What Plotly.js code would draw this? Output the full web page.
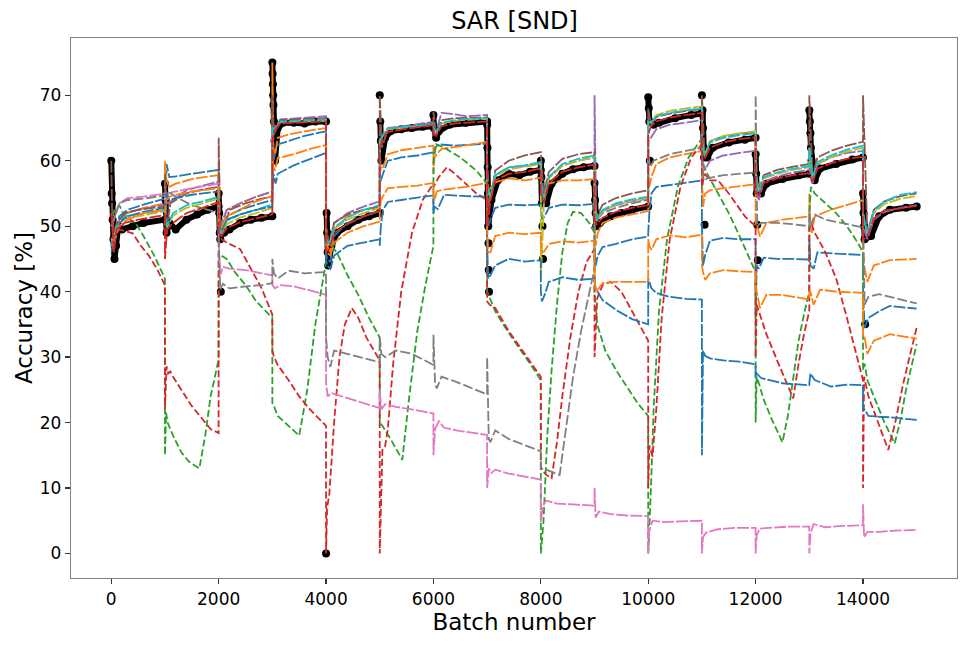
<!DOCTYPE html>
<html>
<head>
<meta charset="utf-8">
<script src="https://cdn.plot.ly/plotly-3.0.1.min.js"></script>
<style>
  html, body { margin: 0; padding: 0; background: #fff; }
  #chart { width: 969px; height: 646px; }
</style>
</head>
<body>
<div id="chart"></div>
<script>
// values, [batch, accuracy %]
const black = [
  [0,60],[8,55],[15,53.5],[25,51],[40,48],[60,45],[90,47],[130,50],[200,49.5],[400,50],[600,50.5],[999,51],
  [1000,56.5],[1010,54],[1020,51],[1030,49],[1080,50.5],[1200,49.5],[1400,51],[1600,51.8],[1800,52.5],[1999,53],
  [2000,55],[2010,52],[2020,49],[2100,49],[2200,49.5],[2400,50.5],[2600,51],[2800,51.3],[2999,51.5],
  [3000,75],[3005,73.3],[3010,71.7],[3015,70],[3020,68.5],[3030,66],[3040,63],[3050,60],[3100,65],[3200,65.8],[3400,65.8],[3600,65.7],[3800,66],[3999,66],
  [4010,52],[4020,49],[4030,46],[4040,44],[4100,47],[4200,49],[4400,50],[4600,51],[4800,51.5],[4999,52],
  [5010,66],[5020,63],[5030,60],[5100,63.5],[5200,64.5],[5400,64.8],[5600,65],[5800,65.2],[5999,65.3],
  [6000,67],[6010,65],[6050,63.5],[6100,64.5],[6300,65.5],[6600,65.8],[6999,66],
  [7000,65.5],[7005,62],[7010,59],[7015,55],[7020,50],[7080,54],[7200,57],[7400,58],[7600,57.8],[7800,58.3],[7999,58.6],
  [8000,60],[8010,57.5],[8020,53.5],[8100,53.5],[8200,56.5],[8400,58],[8600,58.7],[8800,59],[8999,59.2],
  [9000,56.6],[9010,54],[9020,52],[9030,50],[9100,50.5],[9300,51.5],[9500,52],[9700,52.5],[9999,53],
  [10000,69.7],[10010,68],[10020,66],[10100,65.5],[10200,65.8],[10500,66.5],[10800,67],[10999,67.2],
  [11010,67.7],[11020,65],[11030,62],[11040,60.5],[11100,60.5],[11200,62],[11500,62.8],[11800,63.2],[11999,63.5],
  [12000,61],[12010,58],[12020,55],[12100,55],[12200,56.5],[12500,57.2],[12800,57.8],[12999,58],
  [13000,67.7],[13010,66],[13020,64.2],[13030,62],[13100,57],[13200,58.8],[13500,59.5],[13800,60.2],[13999,60.5],
  [14000,55],[14010,52],[14020,50],[14030,48],[14150,48.5],[14300,51.5],[14500,52.5],[14800,52.8],[14999,53]
];
const blackDots = [
  [2030,48],[2040,40],[4000,0],[5000,70],[7025,47.4],[7030,43.3],[7035,40],[8030,50],[8040,45],
  [10030,60],[11000,70],[11050,50.2],[12030,50.2],[12040,44.8],[13040,60],[14040,35]
];

const blue1 = [
  [0,47],[50,49],[150,51.5],[300,52.5],[600,53.3],[999,54.2],
  [1000,53],[1030,59.5],[1080,57.5],[1200,57.6],[1500,58],[1999,58.6],
  [2000,52],[2050,50],[2150,51.5],[2400,52.5],[2700,53.3],[2999,54],
  [3000,57],[3020,60],[3050,61],[3100,62.5],[3300,63],[3600,63.8],[3999,64.5],
  [4000,46],[4020,45],[4080,44.5],[4150,48.5],[4400,50.5],[4700,51.5],[4999,52.3],
  [5000,56],[5020,57],[5060,58],[5150,60],[5400,60.5],[5700,60.8],[5999,61.3],
  [6000,61],[6030,62],[6100,62.5],[6400,62.3],[6999,62.6],
  [7000,52],[7020,50],[7060,51],[7150,52.8],[7400,53.3],[7700,53.2],[7999,53.3],
  [8000,55],[8020,51],[8070,51.5],[8150,52.8],[8400,53.3],[8700,53.2],[8999,53.4],
  [9000,47],[9020,44],[9060,45.5],[9150,46.8],[9400,47.3],[9700,48],[9999,48.4],
  [10000,49],[10020,52],[10060,55],[10150,56],[10400,56.3],[10700,56.6],[10999,57],
  [11000,50],[11020,44],[11060,45.6],[11150,47.8],[11400,48.2],[11700,48],[11999,48],
  [12000,36],[12020,44],[12060,43.5],[12150,45.2],[12400,45],[12700,45],[12999,44.9],
  [13000,48],[13020,44],[13080,43.5],[13150,46],[13500,45.8],[13999,45.6],
  [14000,40],[14030,34.5],[14100,36],[14300,37],[14500,37.8],[14999,37.4]
];
const orange1 = [
  [0,48],[50,48.5],[150,51],[300,52],[600,52.8],[999,53.5],
  [1000,60],[1030,57],[1080,56],[1200,56.5],[1500,57.2],[1999,57.8],
  [2000,50],[2050,50.5],[2150,52.5],[2400,53.5],[2700,54.5],[2999,55.3],
  [3000,75],[3020,62],[3050,61],[3100,63.5],[3300,64],[3600,64.5],[3999,65],
  [4000,50],[4020,47],[4080,46],[4150,49.5],[4400,51.5],[4700,52.5],[4999,53],
  [5000,62],[5020,58.5],[5060,59],[5150,61],[5400,61.6],[5700,62],[5999,62.3],
  [6000,58],[6020,60.5],[6060,61],[6150,61.8],[6500,62.2],[6999,62.9],
  [7000,52],[7030,55.5],[7150,56.7],[7400,57.3],[7700,57],[7999,57.4],
  [8000,56],[8020,55],[8070,55.5],[8150,56.5],[8400,57],[8700,57],[8999,57.2],
  [9000,50],[9020,47],[9060,49],[9150,50.5],[9400,51.3],[9700,51.8],[9999,52.3],
  [10000,58],[10020,56],[10060,57.5],[10150,59.5],[10400,60.5],[10700,61],[10999,61.5],
  [11000,58],[11020,53],[11060,55],[11150,55.5],[11400,55.8],[11700,56.1],[11999,56.4],
  [12000,50],[12030,50],[12080,48.4],[12200,50.5],[12500,51],[12800,51.3],[12999,51.5],
  [13000,55],[13020,50],[13050,49],[13100,51.5],[13400,52.5],[13700,53.2],[13999,54],
  [14000,46],[14020,44],[14080,41.5],[14200,44],[14500,44.8],[14999,45]
];
const green = [
  [0,50],[60,52.5],[150,53.2],[250,51.5],[450,50.5],[600,48.5],[800,45.5],[999,42],
  [1000,15],[1020,21.5],[1050,20],[1150,18],[1300,15.5],[1450,14],[1640,13],[1750,18],[1850,24],[1999,29.6],
  [2000,46],[2050,45.5],[2150,45],[2300,43],[2500,41],[2700,38.5],[2999,36],
  [3000,23],[3030,22.5],[3100,21],[3300,19.5],[3500,18],[3650,25],[3800,35],[3999,44.5],
  [4000,47],[4050,47.5],[4200,46],[4400,42.5],[4600,39.5],[4800,36],[4999,33],
  [5000,20],[5050,19.5],[5200,17.5],[5420,14.3],[5550,24],[5700,34],[5850,41],[5999,47],
  [6000,60],[6050,62.5],[6200,62],[6500,60.5],[6800,58.5],[6999,56.5],
  [7000,40],[7050,39],[7150,37],[7300,35],[7500,32.5],[7800,29],[7999,26.5],
  [8000,0],[8050,5],[8120,18],[8200,28],[8300,38],[8400,46],[8500,50.5],[8600,52.2],[8750,52],[8900,50.5],[8999,49],
  [9000,40],[9050,35],[9200,31],[9400,28],[9600,25.5],[9800,23],[9999,21],
  [10000,0],[10050,9.8],[10100,22],[10200,37],[10350,48],[10550,56],[10750,60.5],[10999,63.4],
  [11000,60],[11100,58],[11300,55],[11500,52],[11700,48.5],[11999,43],
  [12000,20],[12020,27],[12060,26],[12150,23.5],[12300,20.5],[12500,17],[12600,21],[12700,27],[12800,32.5],[12900,36.5],[12999,40],
  [13000,52],[13030,56],[13100,55],[13300,53.5],[13500,52],[13700,50],[13900,47.5],[13999,46],
  [14000,28],[14030,29],[14080,26.5],[14200,24],[14400,20],[14590,16.8],[14700,20.5],[14800,25],[14900,28.5],[14999,32]
];
const red = [
  [0,52],[50,49.5],[200,49.4],[400,48.9],[550,47],[700,45.5],[850,43.5],[999,41],
  [1000,22],[1030,28.6],[1060,27.5],[1100,27.8],[1150,27],[1300,25],[1500,22.5],[1700,20.5],[1850,19],[1999,18.4],
  [2000,48],[2050,48],[2150,47.5],[2400,46.5],[2600,43.5],[2800,40.5],[2999,36.5],
  [3000,31],[3030,30],[3100,28.8],[3300,26.5],[3500,24],[3700,22],[3999,19.5],
  [4000,0],[4020,7],[4060,9],[4150,20],[4250,30],[4350,35],[4480,37.5],[4600,36],[4750,33],[4999,29.5],
  [5000,0],[5050,16],[5100,16.4],[5150,19],[5250,29],[5400,40],[5600,49],[5800,54],[5999,56.5],
  [6000,56],[6100,57.5],[6250,59],[6400,58],[6600,56.5],[6800,55],[6999,54],
  [7000,38.5],[7050,38],[7150,37.5],[7400,34],[7700,30.5],[7999,27],
  [8000,13],[8100,12],[8200,11.5],[8300,17],[8400,24],[8550,33],[8700,40],[8850,44.5],[8999,46.5],
  [9000,30],[9050,39],[9150,41],[9300,41.5],[9500,40],[9700,37],[9999,32.5],
  [10000,10],[10020,16.5],[10080,14.8],[10150,22],[10250,36],[10400,48],[10600,56],[10800,60.5],[10999,62.5],
  [11000,56],[11050,58],[11150,57],[11300,57],[11500,55],[11800,51.5],[11999,50],
  [12000,30],[12020,38],[12080,36.5],[12200,33.5],[12400,29.5],[12550,26.5],[12700,23.7],[12800,29],[12900,33.5],[12999,37],
  [13000,50],[13030,50.5],[13100,49],[13300,46],[13500,42],[13700,36],[13850,31],[13999,26.5],
  [14000,10],[14020,27],[14100,24],[14300,19.5],[14470,15.8],[14600,20],[14750,26],[14880,30.5],[14999,34.5]
];
const purple = [
  [0,48],[40,47.5],[100,50],[250,52],[500,52.5],[999,53.3],
  [1000,54],[1040,53.5],[1150,54],[1400,55.5],[1700,56.2],[1999,56.8],
  [2000,52],[2050,50],[2150,52.5],[2400,53.5],[2700,54.5],[2999,55.3],
  [3000,66],[3040,65],[3150,66.3],[3500,66.5],[3999,66.8],
  [4000,48],[4060,47.5],[4150,50.5],[4400,52],[4700,53],[4999,53.8],
  [5000,63],[5050,63.8],[5150,65],[5500,65.4],[5999,65.9],
  [6000,64],[6050,64.5],[6150,67.3],[6300,67.2],[6600,66.8],[6999,67],
  [7000,55],[7060,54.5],[7150,57.8],[7400,59],[7700,59.2],[7999,59.5],
  [8000,57],[8060,54],[8150,57.5],[8400,59.3],[8700,60],[8999,60.5],
  [9000,70],[9030,51],[9150,52.3],[9400,53.2],[9700,53.8],[9999,54.2],
  [10000,63],[10050,63.5],[10150,64.8],[10400,65.5],[10700,65.8],[10999,66.2],
  [11000,60],[11050,58.5],[11150,60],[11400,60.8],[11700,61.2],[11999,61.5],
  [12000,56],[12060,54],[12150,56.8],[12400,57.6],[12700,58.2],[12999,58.6],
  [13000,59],[13060,56.5],[13150,59.5],[13400,60.5],[13700,61.2],[13999,61.5],
  [14000,50],[14080,48],[14200,51],[14400,52.2],[14700,52.8],[14999,53.2]
];
const brown = [
  [0,60],[20,50],[50,47],[100,50.5],[250,52],[500,52.5],[999,53],
  [1000,58],[1040,50],[1100,53.5],[1400,55],[1700,55.6],[1999,56],
  [2000,63.5],[2030,50],[2080,49],[2200,52.5],[2500,53.5],[2800,54.2],[2999,54.5],
  [3000,70],[3030,64],[3150,66.2],[3500,66.3],[3999,66.5],
  [4000,50],[4060,47],[4150,50.5],[4400,51.8],[4700,52.5],[4999,53],
  [5000,70],[5040,62],[5150,64.8],[5500,65.2],[5999,65.5],
  [6000,67.5],[6050,64],[6150,66.2],[6400,66.5],[6700,66.5],[6999,66.6],
  [7000,60],[7040,53],[7150,58.5],[7400,60],[7700,60.8],[7999,61.3],
  [8000,61],[8050,55],[8150,58.3],[8400,60.3],[8700,61],[8999,61.3],
  [9000,56],[9040,51.5],[9150,53.3],[9400,54.3],[9700,55],[9999,55.5],
  [10000,68],[10050,65.5],[10150,66.7],[10400,67.2],[10700,67.6],[10999,67.9],
  [11000,70],[11050,60.5],[11150,63],[11400,63.7],[11700,64.1],[11999,64.4],
  [12000,58],[12060,55.5],[12150,57.8],[12400,58.6],[12700,59.1],[12999,59.5],
  [13000,70],[13060,57.5],[13150,60.5],[13400,61.5],[13700,62.3],[13999,62.9],
  [14000,70],[14080,49],[14200,52.5],[14400,53.8],[14700,54.6],[14999,55]
];
const pink = [
  [0,50],[50,51],[150,53.5],[300,54.3],[600,54.5],[999,55],
  [1000,54],[1050,55],[1200,55.3],[1500,55.8],[1999,56.5],
  [2000,48],[2030,42.5],[2080,43.8],[2200,43.5],[2500,43.3],[2800,42.8],[2999,42.5],
  [3000,41],[3050,40.5],[3150,41],[3400,40.8],[3700,40.2],[3999,39.5],
  [4000,26],[4030,24],[4100,24.5],[4300,24],[4600,23.2],[4999,22.2],
  [5000,25],[5030,22],[5100,22.8],[5300,22.4],[5600,22],[5999,21.4],
  [6000,15],[6030,19],[6100,20.2],[6200,19.2],[6500,18.7],[6999,18.1],
  [7000,10],[7030,13],[7080,12.3],[7150,12.8],[7400,12.2],[7700,11.8],[7999,11.3],
  [8000,4.8],[8040,7.3],[8100,8.1],[8300,7.6],[8600,7.5],[8999,7.3],
  [9000,10],[9020,5.5],[9080,6.4],[9300,6],[9600,5.8],[9999,5.7],
  [10000,0],[10020,3.5],[10080,5],[10300,4.8],[10600,4.9],[10999,5],
  [11000,0],[11020,2.5],[11080,3.2],[11300,3.7],[11600,3.9],[11999,3.9],
  [12000,0],[12020,2.8],[12080,3.8],[12300,3.9],[12600,4.1],[12999,4.1],
  [13000,0],[13020,3],[13080,4.5],[13300,4],[13600,4.2],[13999,4.3],
  [14000,7.5],[14020,2.5],[14080,3.3],[14300,3.3],[14600,3.5],[14999,3.6]
];
const gray = [
  [0,50],[50,51],[150,53.5],[300,54],[600,54.2],[999,54.7],
  [1000,55],[1050,55.3],[1200,54.5],[1500,53.2],[1800,52.5],[1999,52],
  [2000,48],[2030,40.3],[2080,41.2],[2200,40.5],[2500,40.8],[2800,41],[2999,41.3],
  [3000,45],[3030,42.8],[3100,42],[3300,43.2],[3600,42.8],[3999,43],
  [4000,33],[4030,30],[4080,28.5],[4150,31],[4400,30.5],[4700,29.8],[4999,29.2],
  [5000,33],[5030,30.5],[5100,30],[5300,31],[5600,30.5],[5999,28.8],
  [6000,33.4],[6030,26],[6060,25.2],[6150,27],[6400,26.3],[6700,25.3],[6999,24.3],
  [7000,30],[7030,17.5],[7060,17],[7150,18.8],[7400,17.5],[7700,16.5],[7999,15.6],
  [8000,13],[8100,12.8],[8250,12.3],[8350,12],[8450,18],[8600,27],[8750,34],[8900,40],[8999,43.5],
  [9000,54],[9050,51],[9150,52],[9400,52.8],[9700,53.5],[9999,54],
  [10000,62],[10030,59],[10100,60],[10400,61],[10700,61.5],[10999,62],
  [11000,62],[11030,57],[11100,57.3],[11400,57.8],[11700,58],[11999,58.2],
  [12000,70],[12030,50],[12100,50.5],[12400,50.5],[12700,50.3],[12999,50],
  [13000,52],[13030,50],[13100,51.8],[13300,51],[13600,50.5],[13999,49.8],
  [14000,52],[14030,38],[14100,39.2],[14300,39.6],[14600,39],[14999,38.2]
];
const olive = [
  [0,48],[50,47.3],[100,49.8],[250,51.2],[500,51.5],[999,52.3],
  [1000,51],[1040,49.8],[1150,51.6],[1400,52.8],[1700,53.5],[1999,54.2],
  [2000,50],[2050,48.8],[2150,50.3],[2400,51.3],[2700,52],[2999,52.8],
  [3000,65],[3040,64.7],[3150,65.9],[3500,66],[3999,66.1],
  [4000,47],[4060,47.2],[4150,49.5],[4400,51],[4700,52],[4999,52.8],
  [5000,63],[5050,63.7],[5150,64.8],[5500,65.1],[5999,65.5],
  [6000,65],[6050,64.2],[6150,65.7],[6400,66.1],[6700,66.3],[6999,66.4],
  [7000,56],[7060,54.3],[7150,57.6],[7400,58.7],[7700,59.1],[7999,59.5],
  [8000,42],[8060,54],[8150,57.3],[8400,59.2],[8700,60],[8999,60.5],
  [9000,53],[9040,50.8],[9150,52.3],[9400,53.3],[9700,53.9],[9999,54.3],
  [10000,66],[10050,65.8],[10150,67],[10400,67.6],[10700,68],[10999,68.3],
  [11000,63],[11050,60.8],[11150,63],[11400,63.8],[11700,64.2],[11999,64.5],
  [12000,58],[12060,55.2],[12150,57.3],[12400,58],[12700,58.6],[12999,59],
  [13000,62],[13060,57.2],[13150,59.6],[13400,60.5],[13700,61.4],[13999,62],
  [14000,52],[14080,48.6],[14200,52],[14400,53.4],[14700,54.2],[14999,54.6]
];
const cyan = [
  [0,48],[50,47.5],[100,50],[250,51.5],[500,51.8],[999,52.5],
  [1000,52],[1040,50],[1150,52],[1400,53.2],[1700,53.8],[1999,54.5],
  [2000,50],[2050,49],[2150,50.8],[2400,51.8],[2700,52.5],[2999,53.3],
  [3000,65],[3040,64.8],[3150,66],[3500,66.1],[3999,66.3],
  [4000,48],[4060,47.3],[4150,49.8],[4400,51.3],[4700,52.5],[4999,53.2],
  [5000,63],[5050,63.8],[5150,64.9],[5500,65.2],[5999,65.6],
  [6000,65],[6050,64.3],[6150,65.8],[6400,66.2],[6700,66.4],[6999,66.5],
  [7000,56],[7060,54.5],[7150,57.8],[7400,59],[7700,59.3],[7999,59.8],
  [8000,57],[8060,54],[8150,57.5],[8400,59.5],[8700,60.3],[8999,60.8],
  [9000,53],[9040,51],[9150,52.5],[9400,53.5],[9700,54.1],[9999,54.5],
  [10000,66],[10050,65.8],[10150,66.8],[10400,67.3],[10700,67.7],[10999,68],
  [11000,63],[11050,60.8],[11150,62.8],[11400,63.5],[11700,63.9],[11999,64.2],
  [12000,58],[12060,55.3],[12150,57.5],[12400,58.2],[12700,58.8],[12999,59.2],
  [13000,62],[13060,57.3],[13150,59.8],[13400,60.8],[13700,61.7],[13999,62.3],
  [14000,52],[14080,48.8],[14200,52.3],[14400,53.8],[14700,54.8],[14999,55.2]
];
const blue2 = [
  [0,46],[50,48],[150,50.5],[300,51.5],[600,52.2],[999,52.8],
  [1000,50],[1030,55],[1080,54],[1200,54.3],[1500,54.8],[1999,55.3],
  [2000,51],[2050,49.5],[2150,51],[2400,51.8],[2700,52.5],[2999,53],
  [3000,55],[3020,58],[3060,56.5],[3100,58],[3400,59.3],[3700,60.3],[3999,61.2],
  [4000,45],[4020,44],[4080,43.5],[4150,45.5],[4400,47],[4700,47.5],[4999,48],
  [5000,47],[5020,50],[5060,52.5],[5150,53.7],[5400,54],[5700,54.3],[5999,54.7],
  [6000,52],[6020,53],[6080,52.6],[6200,54.8],[6600,54.6],[6999,54.5],
  [7000,47],[7020,42],[7060,42.5],[7150,44],[7400,45],[7700,44.6],[7999,44.8],
  [8000,40],[8020,38.5],[8070,39.5],[8150,41.5],[8400,42.2],[8700,41.8],[8999,42],
  [9000,42],[9020,40.5],[9060,40],[9150,38.7],[9400,37.2],[9700,35.8],[9999,35],
  [10000,42],[10020,41.5],[10060,40.5],[10150,39.8],[10400,39.2],[10700,38.9],[10999,38.8],
  [11000,15],[11020,31],[11060,30.2],[11150,29.8],[11400,29.5],[11700,29.3],[11999,28.9],
  [12000,27],[12020,27.5],[12100,26.8],[12500,26],[12999,25.7],
  [13000,26],[13020,27.5],[13100,26.5],[13400,25.5],[13700,25.8],[13999,25.7],
  [14000,22],[14030,22],[14100,21],[14500,20.8],[14999,20.4]
];
const orange2 = [
  [0,47],[50,47.5],[150,50],[300,51],[600,52],[999,52.5],
  [1000,52],[1030,54],[1080,54.5],[1200,54.8],[1500,55.3],[1999,55.8],
  [2000,50],[2050,49.8],[2150,51.5],[2400,52.5],[2700,53.8],[2999,54.6],
  [3000,60],[3020,59],[3050,58.5],[3100,60.4],[3400,61],[3700,61.8],[3999,62.4],
  [4000,48],[4020,46],[4080,45.5],[4150,47.5],[4400,49],[4700,50],[4999,50.7],
  [5000,52],[5020,54],[5060,54.5],[5150,55.8],[5400,56],[5700,56.2],[5999,56.6],
  [6000,55],[6020,54],[6060,55.3],[6200,55.6],[6600,56],[6999,56.6],
  [7000,50],[7020,46],[7060,46],[7150,48.5],[7400,49],[7700,48.8],[7999,49],
  [8000,47],[8020,46],[8070,46.2],[8150,47.3],[8400,47.7],[8700,47.5],[8999,47.8],
  [9000,42],[9020,40],[9060,40.3],[9150,41.3],[9400,41.5],[9700,41.5],[9999,41.5],
  [10000,48],[10020,47],[10060,46.4],[10150,48],[10400,48.6],[10700,48.3],[10999,48.7],
  [11000,44],[11020,43],[11060,41.8],[11150,42.8],[11400,43.3],[11700,43.1],[11999,43],
  [12000,40],[12020,40],[12080,37.5],[12200,39.5],[12500,39.5],[12999,38.8],
  [13000,40],[13020,40],[13080,38],[13200,40.3],[13500,40],[13999,39.8],
  [14000,33],[14030,33],[14080,30.5],[14200,32.5],[14500,33.5],[14999,32.8]
];
const red2 = [
  [0,52],[50,46],[100,49.5],[250,50.5],[500,51],[999,51.7],
  [1000,45],[1040,49.5],[1150,50.5],[1400,52],[1700,52.8],[1999,53.7],
  [2000,49],[2050,48.5],[2150,49.7],[2400,50.6],[2700,51.2],[2999,51.8],
  [3000,63],[3040,64.6],[3150,65.7],[3500,65.8],[3999,66],
  [4000,46],[4060,46.5],[4150,49],[4400,50.3],[4700,51.5],[4999,52.3],
  [5000,62],[5050,63.3],[5150,64.4],[5500,64.9],[5999,65.4],
  [6000,64],[6050,63.8],[6150,65.3],[6400,65.7],[6700,65.9],[6999,66],
  [7000,50],[7060,53.8],[7150,57],[7400,58],[7700,58.3],[7999,58.8],
  [8000,55],[8060,53.5],[8150,56.6],[8400,58.3],[8700,59],[8999,59.4],
  [9000,51],[9040,50.3],[9150,51.3],[9400,52.2],[9700,52.8],[9999,53.2],
  [10000,64],[10050,65.3],[10150,66],[10400,66.6],[10700,67],[10999,67.3],
  [11000,60],[11050,60.3],[11150,62],[11400,62.8],[11700,63.3],[11999,63.6],
  [12000,55],[12060,54.8],[12150,56.6],[12400,57.3],[12700,57.8],[12999,58.1],
  [13000,58],[13060,56.8],[13150,58.8],[13400,59.6],[13700,60.3],[13999,60.6],
  [14000,48],[14080,48.3],[14200,51.2],[14400,52.4],[14700,52.8],[14999,53.1]
];

const C = {
  blue: '#1f77b4', orange: '#ff7f0e', green: '#2ca02c', red: '#d62728', purple: '#9467bd',
  brown: '#8c564b', pink: '#e377c2', gray: '#7f7f7f', olive: '#bcbd22', cyan: '#17becf'
}

// the black band is not joined from one task to the next
function split_tasks(pts)
{
  const x = []
  const y = []
  for (let i = 0; i < pts.length; i++) {
    if (i > 0 && Math.floor(pts[i][0] / 1000) != Math.floor(pts[i-1][0] / 1000)) {
      x.push(null)
      y.push(null)
    }
    x.push(pts[i][0])
    y.push(pts[i][1])
  }
  return { x: x, y: y }
}

function line(pts, color, dash)
{
  return {
    x: pts.map(p => p[0]), y: pts.map(p => p[1]),
    mode: 'lines', type: 'scatter', hoverinfo: 'skip', showlegend: false,
    line: { color: color, width: 1.8, dash: dash }
  }
}

const band = split_tasks(black)
const solidish = '12px,2px'
const dashed = '7px,3px'

const data = [
  {
    x: band.x, y: band.y,
    mode: 'lines+markers', type: 'scatter', hoverinfo: 'skip', showlegend: false, connectgaps: false,
    line: { color: 'black', width: 6 }, marker: { color: 'black', size: 8 }
  },
  {
    x: blackDots.map(p => p[0]), y: blackDots.map(p => p[1]),
    mode: 'markers', type: 'scatter', hoverinfo: 'skip', showlegend: false,
    marker: { color: 'black', size: 8 }
  },
  line(blue1, C.blue, solidish),
  line(orange1, C.orange, solidish),
  line(green, C.green, dashed),
  line(red, C.red, dashed),
  line(purple, C.purple, solidish),
  line(brown, C.brown, solidish),
  line(pink, C.pink, solidish),
  line(gray, C.gray, '10px,3px'),
  line(olive, C.olive, solidish),
  line(cyan, C.cyan, solidish),
  line(blue2, C.blue, solidish),
  line(orange2, C.orange, solidish),
  line(red2, C.red, solidish),
]

const axisFont = { family: 'DejaVu Sans', size: 17, color: 'black' }

const layout = {
  width: 969,
  height: 646,
  margin: { l: 71, r: 12, t: 38, b: 68 },
  paper_bgcolor: 'white',
  plot_bgcolor: 'white',
  font: { family: 'DejaVu Sans', color: 'black' },
  title: {
    text: 'SAR [SND]',
    font: { family: 'DejaVu Sans', size: 24, color: 'black' },
    x: 0.531, xanchor: 'center', y: 0.968, yanchor: 'middle', yref: 'container'
  },
  xaxis: {
    range: [-750, 15750],
    tickvals: [0, 2000, 4000, 6000, 8000, 10000, 12000, 14000],
    ticktext: ['0', '2000', '4000', '6000', '8000', '10000', '12000', '14000'],
    ticks: 'outside', ticklen: 5, tickwidth: 1.2, tickcolor: '#333',
    showline: true, mirror: true, linecolor: '#808080', linewidth: 1.3,
    showgrid: false, zeroline: false,
    tickfont: axisFont,
    title: { text: 'Batch number', font: { family: 'DejaVu Sans', size: 23, color: 'black' }, standoff: 6 }
  },
  yaxis: {
    range: [-3.75, 78.75],
    tickvals: [0, 10, 20, 30, 40, 50, 60, 70],
    ticks: 'outside', ticklen: 5, tickwidth: 1.2, tickcolor: '#333',
    showline: true, mirror: true, linecolor: '#808080', linewidth: 1.3,
    showgrid: false, zeroline: false,
    tickfont: axisFont,
    title: { text: 'Accuracy [%]', font: { family: 'DejaVu Sans', size: 23, color: 'black' }, standoff: 0 }
  }
}

Plotly.newPlot('chart', data, layout, { displayModeBar: false, staticPlot: true })
</script>
</body>
</html>
